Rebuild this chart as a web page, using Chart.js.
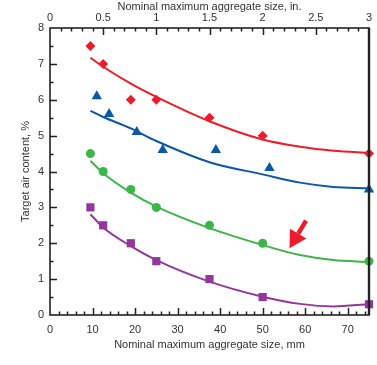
<!DOCTYPE html>
<html>
<head>
<meta charset="utf-8">
<script src="https://cdn.jsdelivr.net/npm/chart.js@4/dist/chart.umd.min.js"></script>
<style>
  html, body { margin: 0; padding: 0; background: #fff; }
  #wrap { width: 377px; height: 365px; }
</style>
</head>
<body>
<div id="wrap"><canvas id="airChart" width="377" height="365"></canvas></div>
<script>
// measured points (x = nominal max aggregate size, mm; y = target air content, %)
const sizesMm = [9.5, 12.5, 19, 25, 37.5, 50, 75];
const blueSizesMm = [11, 13.9, 20.4, 26.5, 39, 51.6, 75];

const redPoints = [7.5, 7.0, 6.0, 6.0, 5.5, 5.0, 4.5];
const bluePoints = [6.1, 5.6, 5.1, 4.6, 4.6, 4.1, 3.5];
const greenPoints = [4.5, 4.0, 3.5, 3.0, 2.5, 2.0, 1.5];
const purplePoints = [3.0, 2.5, 2.0, 1.5, 1.0, 0.5, 0.3];

// fitted curves
const fitMm = [9.5, 12.5, 19, 25, 37.5, 50, 58.8, 66.6, 75];
const redFit = [7.17, 6.92, 6.45, 6.08, 5.40, 4.89, 4.69, 4.58, 4.52];
const blueFit = [5.69, 5.52, 5.20, 4.85, 4.26, 3.92, 3.69, 3.57, 3.53];
const greenFit = [4.30, 3.95, 3.41, 3.02, 2.42, 1.95, 1.67, 1.53, 1.48];
const purpleFit = [2.81, 2.44, 1.92, 1.53, 0.93, 0.51, 0.31, 0.24, 0.30];

// tick labels
const mmTicks = [0, 10, 20, 30, 40, 50, 60, 70];
const inTicks = [0, 0.5, 1, 1.5, 2, 2.5, 3];
const pctTicks = [0, 1, 2, 3, 4, 5, 6, 7, 8];

// arrow annotation (data units): tail -> tip
const arrowTail = { x: 60.2, y: 2.63 };
const arrowTip = { x: 56.3, y: 1.86 };

const RED = '#ec1c2a', BLUE = '#0b58a4', GREEN = '#3db549', PURPLE = '#93379a';
const INK = '#222';

const toXY = (xs, ys) => xs.map((x, i) => ({ x: x, y: ys[i] }));
const fixTicks = vals => scale => { scale.ticks = vals.map(v => ({ value: v })); };
const plain = v => String(Number(v));

const fitLine = (data, color) => ({
    data: data, showLine: true, borderColor: color, borderWidth: 2,
    pointRadius: 0, cubicInterpolationMode: 'monotone', fill: false, order: 2
});
const markers = (data, color, style, r) => ({
    data: data, showLine: false, pointStyle: style, pointRadius: r,
    backgroundColor: color, borderColor: color, borderWidth: 0, clip: false, order: 1
});

// box + inward ticks + arrow
const framePlugin = {
    id: 'frame',
    afterDatasetsDraw(chart) {
        const { ctx, chartArea: a, scales } = chart;
        const x = scales.x, x2 = scales.x2, y = scales.y;
        ctx.save();
        ctx.strokeStyle = INK;
        ctx.lineWidth = 1.5;
        ctx.beginPath();
        for (let v = 2; v < 75; v += 2) {
            const px = Math.round(x.getPixelForValue(v)) + 0.5;
            const len = v % 10 === 0 ? 7 : 3.5;
            ctx.moveTo(px, a.bottom); ctx.lineTo(px, a.bottom - len);
        }
        for (let i = 1; i < 30; i++) {
            const px = Math.round(x2.getPixelForValue(i / 10)) + 0.5;
            const len = i % 5 === 0 ? 7 : 3.5;
            ctx.moveTo(px, a.top); ctx.lineTo(px, a.top + len);
        }
        for (let i = 1; i < 16; i++) {
            const py = Math.round(y.getPixelForValue(i / 2)) + 0.5;
            const len = i % 2 === 0 ? 7 : 3.5;
            ctx.moveTo(a.left, py); ctx.lineTo(a.left + len, py);
        }
        ctx.stroke();
        ctx.lineWidth = 1.6;
        ctx.strokeRect(a.left, a.top, a.right - a.left, a.bottom - a.top);
        ctx.lineWidth = 2.4;
        ctx.beginPath();
        ctx.moveTo(a.right, a.top); ctx.lineTo(a.right, a.bottom);
        ctx.stroke();

        // red arrow
        const tx = x.getPixelForValue(arrowTip.x), ty = y.getPixelForValue(arrowTip.y);
        const sx = x.getPixelForValue(arrowTail.x), sy = y.getPixelForValue(arrowTail.y);
        const ang = Math.atan2(ty - sy, tx - sx);
        const headLen = 17, headW = 9.5;
        const bx = tx - headLen * Math.cos(ang), by = ty - headLen * Math.sin(ang);
        ctx.strokeStyle = RED; ctx.fillStyle = RED;
        ctx.lineWidth = 4.5;
        ctx.beginPath(); ctx.moveTo(sx, sy); ctx.lineTo(bx, by); ctx.stroke();
        ctx.beginPath();
        ctx.moveTo(tx, ty);
        ctx.lineTo(bx + headW * Math.sin(ang), by - headW * Math.cos(ang));
        ctx.lineTo(bx - headW * Math.sin(ang), by + headW * Math.cos(ang));
        ctx.closePath(); ctx.fill();
        ctx.restore();
    }
};

const tickFont = { family: "'Liberation Sans', Arial, sans-serif", size: 11 };
const titleFont = { family: "'Liberation Sans', Arial, sans-serif", size: 11 };

new Chart(document.getElementById('airChart'), {
    type: 'scatter',
    data: {
        datasets: [
            fitLine(toXY(fitMm, redFit), RED),
            fitLine(toXY(fitMm, blueFit), BLUE),
            fitLine(toXY(fitMm, greenFit), GREEN),
            fitLine(toXY(fitMm, purpleFit), PURPLE),
            markers(toXY(sizesMm, redPoints), RED, 'rectRot', 5),
            markers(toXY(blueSizesMm, bluePoints), BLUE, 'triangle', 6),
            markers(toXY(sizesMm, greenPoints), GREEN, 'circle', 4.5),
            markers(toXY(sizesMm, purplePoints), PURPLE, 'rect', 5.8)
        ]
    },
    options: {
        responsive: false,
        animation: false,
        layout: { padding: { left: 0, right: 8, top: 0, bottom: 0 } },
        plugins: { legend: { display: false }, tooltip: { enabled: false } },
        scales: {
            x: {
                type: 'linear', position: 'bottom', min: 0, max: 75,
                grid: { display: false, drawTicks: false }, border: { display: false },
                afterBuildTicks: fixTicks(mmTicks),
                ticks: { padding: 8, color: '#333', font: tickFont, maxRotation: 0, callback: plain },
                title: { display: true, text: 'Nominal maximum aggregate size, mm', color: '#333',
                         font: titleFont, padding: { top: 0, bottom: 13.5 } },
                afterFit(s) { s.height = 50; }
            },
            x2: {
                type: 'linear', position: 'top', min: 0, max: 3,
                grid: { display: false, drawTicks: false }, border: { display: false },
                afterBuildTicks: fixTicks(inTicks),
                ticks: { padding: 3, color: '#333', font: tickFont, maxRotation: 0, callback: plain },
                title: { display: true, text: 'Nominal maximum aggregate size, in.', color: '#333',
                         font: titleFont, padding: { top: 0, bottom: 0 } },
                afterFit(s) { s.height = 28; }
            },
            y: {
                type: 'linear', position: 'left', min: 0, max: 8,
                grid: { display: false, drawTicks: false }, border: { display: false },
                afterBuildTicks: fixTicks(pctTicks),
                ticks: { padding: 6, color: '#333', font: tickFont, callback: plain },
                title: { display: true, text: 'Target air content, %', color: '#333',
                         font: titleFont, padding: { top: 19.5, bottom: 0 } },
                afterFit(s) { s.width = 50; }
            }
        }
    },
    plugins: [framePlugin]
});
</script>
</body>
</html>
